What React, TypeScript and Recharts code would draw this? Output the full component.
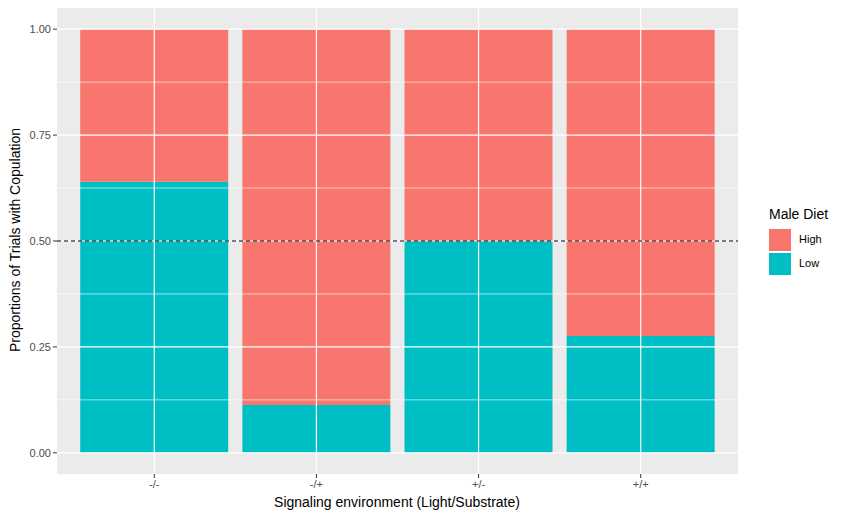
import React from "react";
import { BarChart, Bar, XAxis, YAxis, ReferenceLine, CartesianGrid } from "recharts";

const categories = ["-/-", "-/+", "+/-", "+/+"];
const lowValues = [0.64, 0.113, 0.5, 0.276];
const highValues = lowValues.map((v) => 1 - v);
const yTicks = [0, 0.25, 0.5, 0.75, 1];
const yMinor = [0.125, 0.375, 0.625, 0.875];

const data = categories.map((c, i) => ({ x: i + 1, name: c, Low: lowValues[i], High: highValues[i] }));

export default function App() {
  return (
    <div style={{ position: "absolute", left: 0, top: 0, width: 844, height: 518, background: "#fff", fontFamily: "Arial, 'Liberation Sans', sans-serif" }}>
      <BarChart width={844} height={518} data={data} margin={{ top: 8, right: 106, bottom: 0, left: 0 }} barSize={148}>
        <CartesianGrid fill="#EBEBEB" stroke="none" horizontal={false} vertical={false} />
        {yMinor.map((v) => (
          <ReferenceLine key={"m" + v} y={v} stroke="#fff" strokeWidth={0.6} />
        ))}
        {yTicks.map((v) => (
          <ReferenceLine key={"y" + v} y={v} stroke="#fff" strokeWidth={1.2} />
        ))}
        {[1, 2, 3, 4].map((v) => (
          <ReferenceLine key={"x" + v} x={v} stroke="#fff" strokeWidth={1.2} />
        ))}
        <XAxis
          dataKey="x"
          type="number"
          domain={[0.4, 4.6]}
          ticks={[1, 2, 3, 4]}
          tickFormatter={(v) => categories[v - 1]}
          height={44}
          axisLine={false}
          tickSize={4}
          tickLine={{ stroke: "#333" }}
          tick={{ fill: "#4D4D4D", fontSize: 11 }}
          allowDataOverflow
        />
        <YAxis
          type="number"
          domain={[-0.05, 1.05]}
          ticks={yTicks}
          tickFormatter={(v) => v.toFixed(2)}
          width={57}
          axisLine={false}
          tickSize={4}
          tickLine={{ stroke: "#333" }}
          tick={{ fill: "#4D4D4D", fontSize: 11 }}
          allowDataOverflow
        />
        <Bar dataKey="Low" stackId="a" fill="#00BFC4" isAnimationActive={false} />
        <Bar dataKey="High" stackId="a" fill="#F8766D" isAnimationActive={false} />
        <ReferenceLine y={0.5} stroke="#000" strokeDasharray="4 3" strokeWidth={1} />
      </BarChart>
      <div style={{ position: "absolute", left: 397, top: 494, transform: "translateX(-50%)", fontSize: 14, whiteSpace: "nowrap", color: "#000" }}>
        Signaling environment (Light/Substrate)
      </div>
      <div style={{ position: "absolute", left: 15, top: 240, transform: "translate(-50%,-50%) rotate(-90deg)", fontSize: 14, whiteSpace: "nowrap", color: "#000" }}>
        Proportions of Trials with Copulation
      </div>
      <div style={{ position: "absolute", left: 769, top: 206, fontSize: 14, color: "#000" }}>Male Diet</div>
      <div style={{ position: "absolute", left: 769, top: 229, width: 22, height: 22, background: "#F8766D" }} />
      <div style={{ position: "absolute", left: 799, top: 233, fontSize: 11, color: "#000" }}>High</div>
      <div style={{ position: "absolute", left: 769, top: 253, width: 22, height: 22, background: "#00BFC4" }} />
      <div style={{ position: "absolute", left: 799, top: 257, fontSize: 11, color: "#000" }}>Low</div>
    </div>
  );
}
